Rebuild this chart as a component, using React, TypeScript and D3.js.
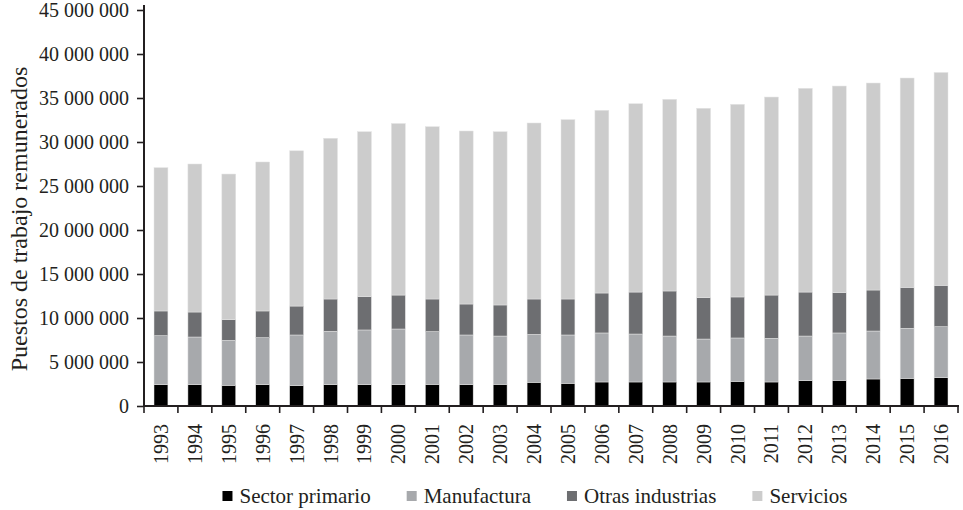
import * as d3 from 'd3';
import React, { useEffect, useRef } from 'react';

const years = [
  '1993', '1994', '1995', '1996', '1997', '1998', '1999', '2000', '2001', '2002', '2003', '2004',
  '2005', '2006', '2007', '2008', '2009', '2010', '2011', '2012', '2013', '2014', '2015', '2016',
];

const sectorPrimario = [
  2420000, 2420000, 2350000, 2420000, 2310000, 2420000, 2420000, 2420000, 2460000, 2420000, 2460000, 2690000,
  2580000, 2730000, 2730000, 2730000, 2730000, 2800000, 2730000, 2880000, 2920000, 3070000, 3140000, 3220000,
];
const manufactura = [
  5570000, 5420000, 5110000, 5340000, 5760000, 6070000, 6220000, 6330000, 5990000, 5650000, 5490000, 5450000,
  5490000, 5570000, 5450000, 5220000, 4880000, 4930000, 4960000, 5070000, 5380000, 5450000, 5690000, 5790000,
];
const otrasIndustrias = [
  2810000, 2840000, 2350000, 3040000, 3290000, 3670000, 3780000, 3860000, 3710000, 3520000, 3530000, 4020000,
  4090000, 4540000, 4770000, 5120000, 4700000, 4660000, 4920000, 5000000, 4580000, 4660000, 4650000, 4700000,
];
const servicios = [
  16280000, 16820000, 16550000, 16930000, 17640000, 18260000, 18750000, 19490000, 19580000, 19660000, 19690000, 20000000,
  20380000, 20760000, 21400000, 21780000, 21520000, 21890000, 22500000, 23150000, 23480000, 23520000, 23790000, 24190000,
];

const seriesNames = ['Sector primario', 'Manufactura', 'Otras industrias', 'Servicios'];
const seriesColors = ['#000000', '#a7a9ac', '#6d6e71', '#cccccc'];
const yTicks = [0, 5000000, 10000000, 15000000, 20000000, 25000000, 30000000, 35000000, 40000000, 45000000];

const width = 963;
const height = 510;
const font = '"Liberation Serif", "Times New Roman", serif';
const axisColor = '#231f20';

const App = () => {
  const svgRef = useRef(null);

  useEffect(() => {
    const svg = d3.select(svgRef.current);
    svg.selectAll('*').remove();

    const left = 144;
    const right = 958;
    const top = 10;
    const bottom = 406;

    const xScale = d3.scaleBand().domain(years).range([left, right]).paddingInner(0.59).paddingOuter(0.295);
    const yScale = d3.scaleLinear().domain([0, 45000000]).range([bottom, top]);

    const table = years.map((y, i) => ({
      year: y,
      'Sector primario': sectorPrimario[i],
      Manufactura: manufactura[i],
      'Otras industrias': otrasIndustrias[i],
      Servicios: servicios[i],
    }));
    const stacked = d3.stack().keys(seriesNames)(table as any);

    svg
      .append('g')
      .selectAll('g')
      .data(stacked)
      .enter()
      .append('g')
      .attr('fill', (d, i) => seriesColors[i])
      .selectAll('rect')
      .data((d) => d)
      .enter()
      .append('rect')
      .attr('x', (d: any) => xScale(d.data.year))
      .attr('y', (d) => yScale(d[1]))
      .attr('width', xScale.bandwidth())
      .attr('height', (d) => yScale(d[0]) - yScale(d[1]))
      .attr('stroke', '#e4e4e4')
      .attr('stroke-width', 0.5);

    const fmt = d3.formatLocale({ decimal: ',', thousands: ' ', grouping: [3], currency: ['', ''] }).format(',');

    // y axis
    const yAxis = svg
      .append('g')
      .attr('transform', `translate(${left},0)`)
      .call(d3.axisLeft(yScale).tickValues(yTicks).tickFormat((d) => fmt(d as number)).tickSize(7).tickPadding(8).tickSizeOuter(0));
    yAxis.attr('font-family', null).attr('font-size', null);
    yAxis.select('.domain').attr('stroke', axisColor).attr('stroke-width', 2).attr('d', `M0,${top - 5}V${bottom + 1}`);
    yAxis.selectAll('.tick line').attr('stroke', axisColor).attr('stroke-width', 1.6);
    yAxis.selectAll('.tick text').attr('fill', axisColor).style('font-family', font).style('font-size', '20px');

    // x axis, ticks at band boundaries
    const step = xScale.step();
    const xg = svg.append('g').attr('transform', `translate(0,${bottom})`);
    xg.append('line')
      .attr('x1', left - 1)
      .attr('x2', right + 1)
      .attr('y1', 0)
      .attr('y2', 0)
      .attr('stroke', axisColor)
      .attr('stroke-width', 2);
    xg.selectAll('line.tk')
      .data(d3.range(years.length + 1))
      .enter()
      .append('line')
      .attr('class', 'tk')
      .attr('x1', (i) => left + i * step)
      .attr('x2', (i) => left + i * step)
      .attr('y1', 0)
      .attr('y2', 7)
      .attr('stroke', axisColor)
      .attr('stroke-width', 1.6);
    xg.selectAll('text')
      .data(years)
      .enter()
      .append('text')
      .attr('transform', (d) => `translate(${(xScale(d) as number) + xScale.bandwidth() / 2 + 7},18) rotate(-90)`)
      .attr('text-anchor', 'end')
      .attr('fill', axisColor)
      .style('font-family', font)
      .style('font-size', '20px')
      .text((d) => d);

    // y title
    svg
      .append('text')
      .attr('transform', 'translate(27,219) rotate(-90)')
      .attr('text-anchor', 'middle')
      .attr('fill', axisColor)
      .style('font-family', font)
      .style('font-size', '24px')
      .text('Puestos de trabajo remunerados');

    // legend
    const legend = svg.append('g');
    const gap = 36;
    let cursor = 0;
    seriesNames.forEach((name, i) => {
      const item = legend.append('g').attr('transform', `translate(${cursor},0)`);
      item.append('rect').attr('x', 0).attr('y', 491).attr('width', 10).attr('height', 10).attr('fill', seriesColors[i]);
      const t = item
        .append('text')
        .attr('x', 17)
        .attr('y', 503)
        .attr('fill', axisColor)
        .style('font-family', font)
        .style('font-size', '21px')
        .text(name);
      const w = (t.node() as SVGTextElement).getComputedTextLength();
      cursor += 17 + w + gap;
    });
    const total = cursor - gap;
    legend.attr('transform', `translate(${535 - total / 2},0)`);
  }, []);

  return (
    <svg
      ref={svgRef}
      width={width}
      height={height}
      style={{ position: 'absolute', left: 0, top: 0, background: '#ffffff' }}
    />
  );
};

export default App;
